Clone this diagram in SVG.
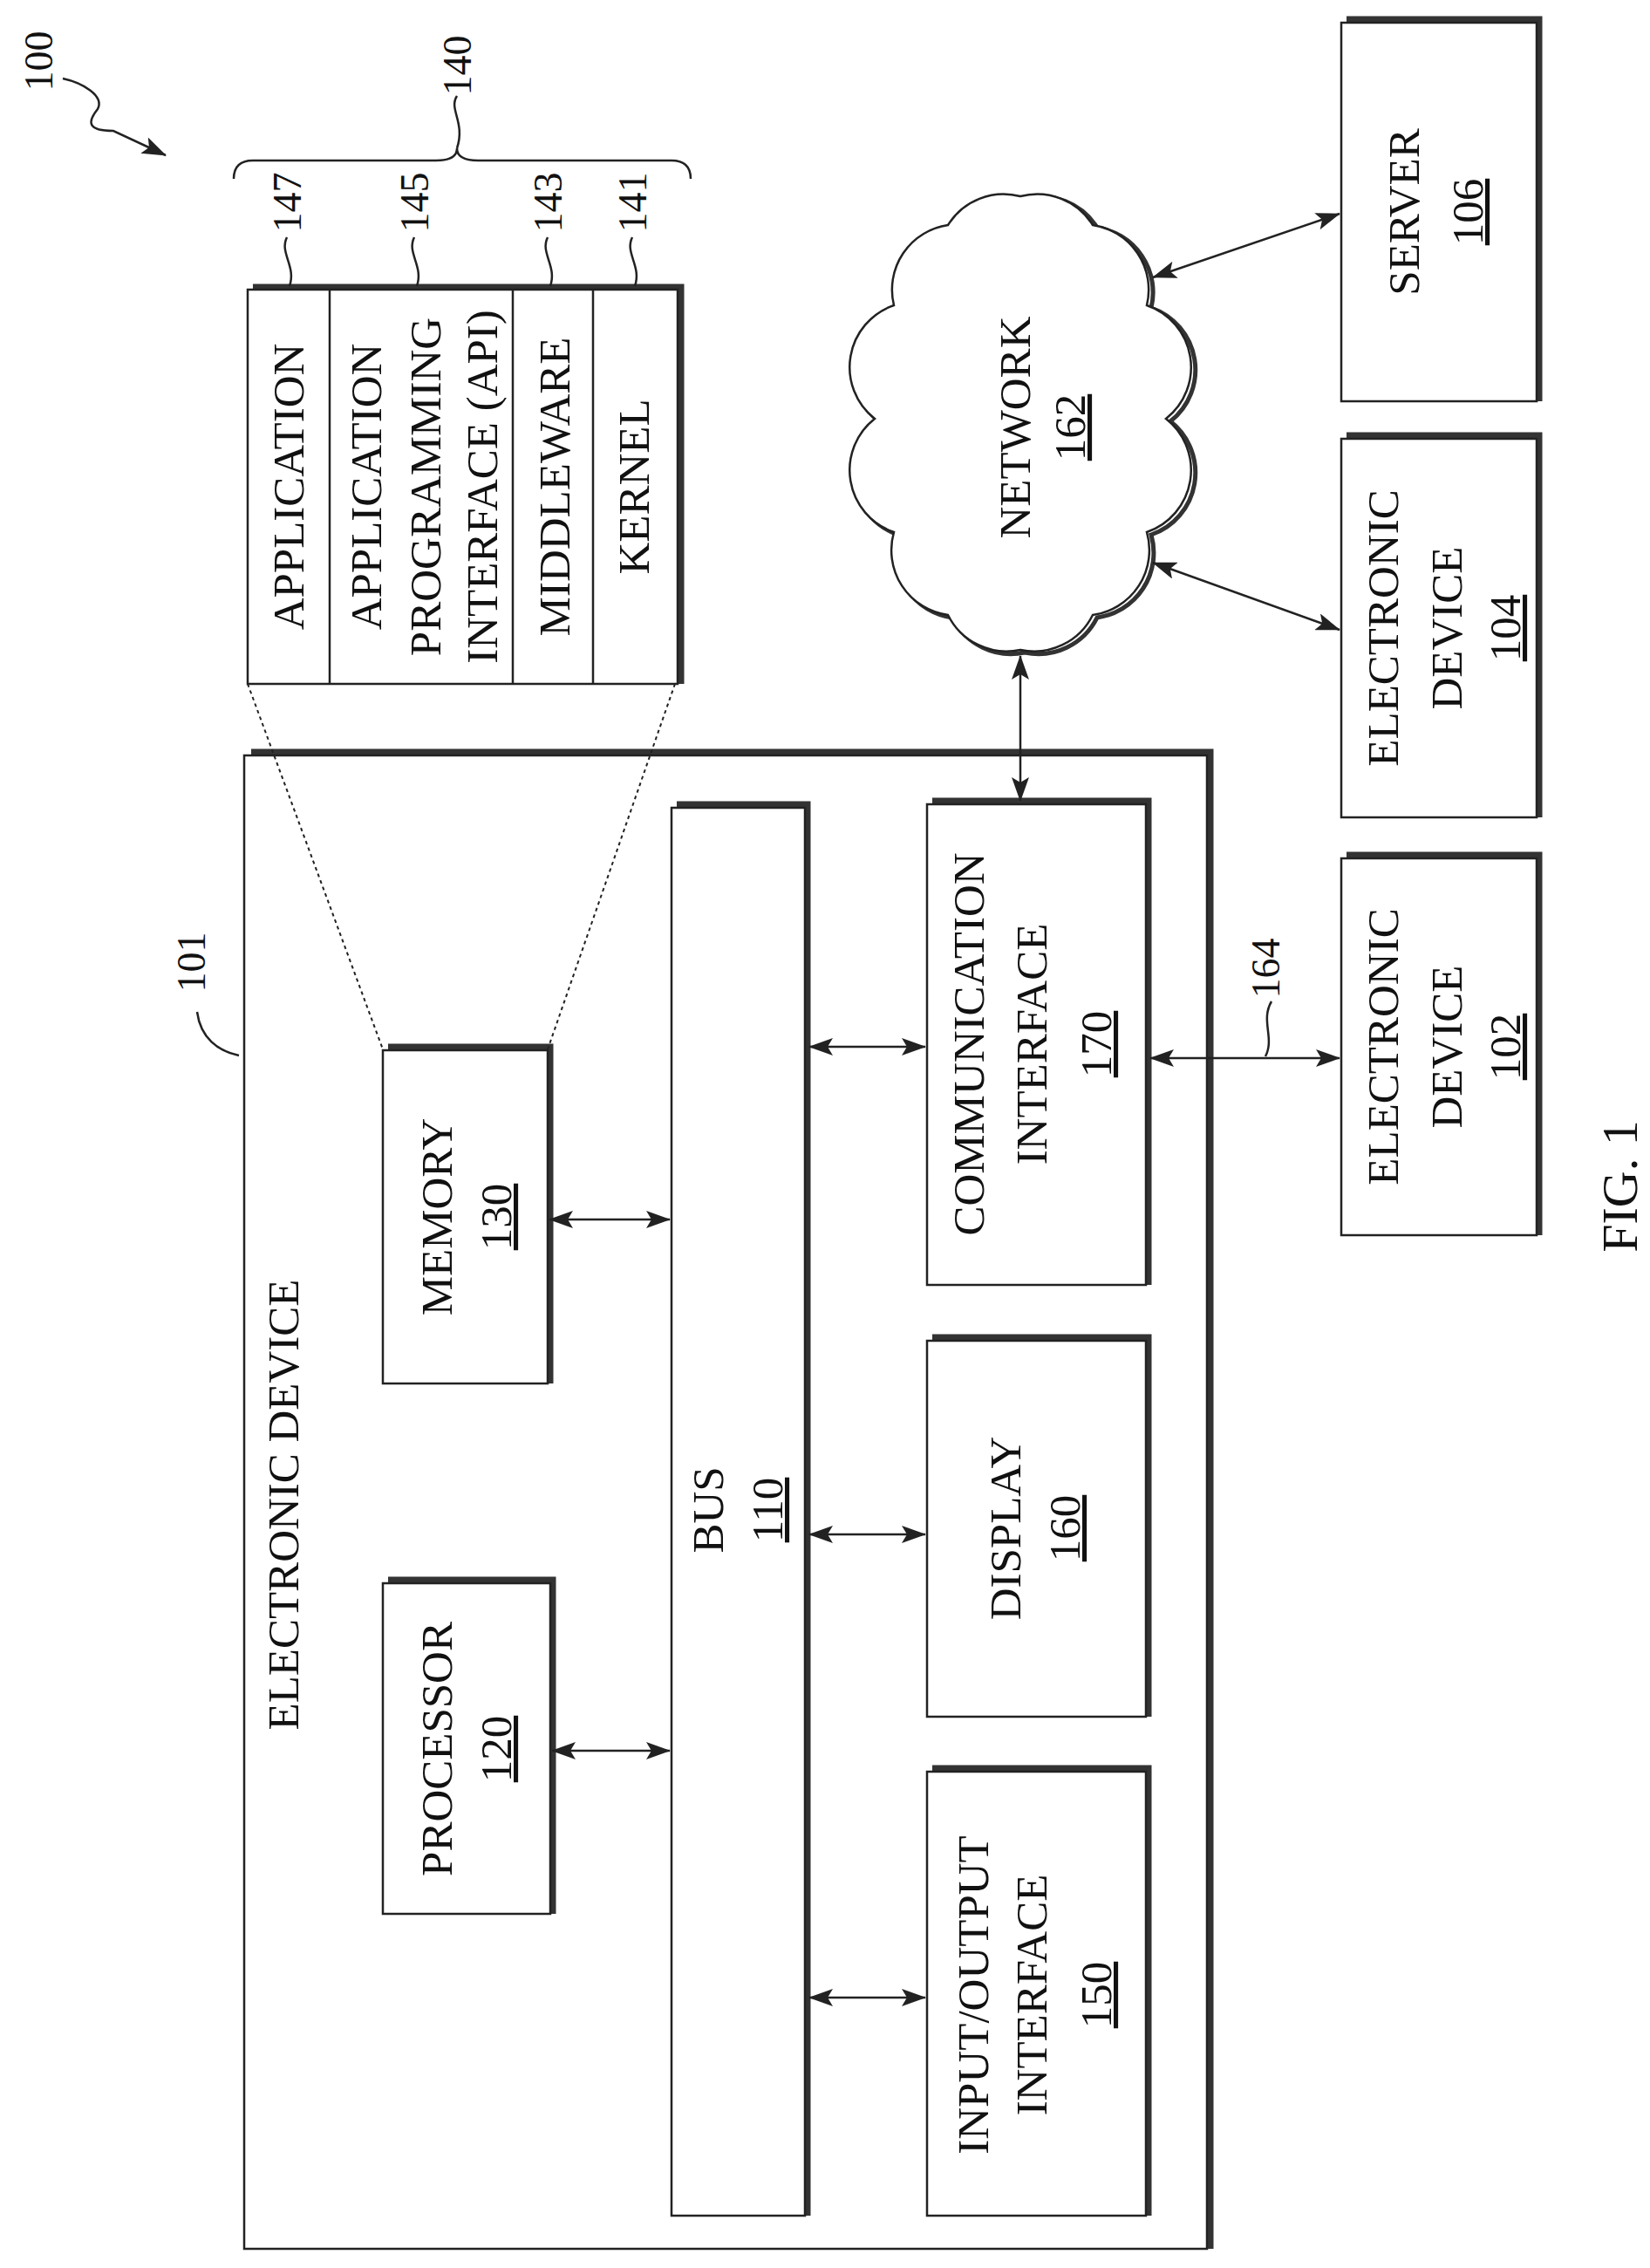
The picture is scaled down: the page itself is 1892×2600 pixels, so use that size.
<svg xmlns="http://www.w3.org/2000/svg" width="1892" height="2600" viewBox="0 0 1892 2600">
<style>
text{font-family:"Liberation Serif","Times New Roman",serif;font-size:51px;fill:#111;text-anchor:middle}
.n{font-size:46px}
.u{text-decoration:underline}
.b{fill:#fff;stroke:#222;stroke-width:2.5}
.sh{fill:none;stroke:#333;stroke-width:7}
.l{fill:none;stroke:#222;stroke-width:2.5}
.d{fill:none;stroke:#222;stroke-width:2;stroke-dasharray:4 4}
</style>
<defs>
<marker id="a" viewBox="0 0 28 20" refX="27" refY="10" markerWidth="28" markerHeight="20" markerUnits="userSpaceOnUse" orient="auto-start-reverse"><path d="M0,0 L28,10 L0,20 L6,10 Z" fill="#222"/></marker>
</defs>

<g id="label100">
<text class="n" transform="rotate(-90 60 70)" x="60" y="70">100</text>
<path class="l" d="M72,90 C95,95 120,110 112,125 C100,140 100,150 130,150 L190,178" marker-end="url(#a)"/>
</g>

<g id="stack140">
<text class="n" transform="rotate(-90 540 75)" x="540" y="75">140</text>
<path class="l" d="M524,110 C514,125 534,140 524,170"/>
<path class="l" d="M268,205 Q268,184 290,184 L500,184 Q524,184 524,170 Q524,184 548,184 L770,184 Q792,184 792,205"/>
<polyline class="sh" points="290,329 781,329 781,784"/>
<rect class="b" x="284" y="332" width="493" height="452"/>
<line class="l" x1="378" y1="332" x2="378" y2="784"/>
<line class="l" x1="588" y1="332" x2="588" y2="784"/>
<line class="l" x1="680" y1="332" x2="680" y2="784"/>
<text transform="rotate(-90 348 558)" x="348" y="558">APPLICATION</text>
<text transform="rotate(-90 437 558)" x="437" y="558">APPLICATION</text>
<text transform="rotate(-90 505 558)" x="505" y="558">PROGRAMMING</text>
<text transform="rotate(-90 570 558)" x="570" y="558">INTERFACE (API)</text>
<text transform="rotate(-90 653 558)" x="653" y="558">MIDDLEWARE</text>
<text transform="rotate(-90 744 558)" x="744" y="558">KERNEL</text>
<text class="n" transform="rotate(-90 345 232)" x="345" y="232">147</text>
<text class="n" transform="rotate(-90 491 232)" x="491" y="232">145</text>
<text class="n" transform="rotate(-90 644 232)" x="644" y="232">143</text>
<text class="n" transform="rotate(-90 741 232)" x="741" y="232">141</text>
<path class="l" d="M329,272 C320,290 340,305 332,328"/>
<path class="l" d="M475,272 C466,290 486,305 478,328"/>
<path class="l" d="M628,272 C619,290 639,305 631,328"/>
<path class="l" d="M725,272 C716,290 736,305 728,328"/>
</g>

<g id="device101">
<polyline class="sh" points="288,862 1388,862 1388,2578"/>
<rect class="b" x="280" y="866" width="1104" height="1712"/>
<text transform="rotate(-90 342 1725)" x="342" y="1725">ELECTRONIC DEVICE</text>
<text class="n" transform="rotate(-90 235 1103)" x="235" y="1103">101</text>
<path class="l" d="M226,1160 C230,1190 250,1205 274,1210"/>
</g>

<g id="memory130">
<polyline class="sh" points="445,1200 631,1200 631,1586"/>
<rect class="b" x="439" y="1204" width="189" height="382"/>
<text transform="rotate(-90 518 1395)" x="518" y="1395">MEMORY</text>
<text class="u" transform="rotate(-90 586 1395)" x="586" y="1395">130</text>
</g>
<path class="d" d="M284,784 L439,1203 M774,784 L628,1203"/>

<g id="processor120">
<polyline class="sh" points="445,1811 634,1811 634,2194"/>
<rect class="b" x="439" y="1815" width="192" height="379"/>
<text transform="rotate(-90 518 2005)" x="518" y="2005">PROCESSOR</text>
<text class="u" transform="rotate(-90 586 2005)" x="586" y="2005">120</text>
</g>

<g id="bus110">
<polyline class="sh" points="776,922 926,922 926,2540"/>
<rect class="b" x="770" y="926" width="153" height="1614"/>
<text transform="rotate(-90 829 1731)" x="829" y="1731">BUS</text>
<text class="u" transform="rotate(-90 897 1731)" x="897" y="1731">110</text>
</g>

<g id="comm170">
<polyline class="sh" points="1069,918 1317,918 1317,1473"/>
<rect class="b" x="1063" y="922" width="251" height="551"/>
<text transform="rotate(-90 1128 1197)" x="1128" y="1197">COMMUNICATION</text>
<text transform="rotate(-90 1200 1197)" x="1200" y="1197">INTERFACE</text>
<text class="u" transform="rotate(-90 1274 1197)" x="1274" y="1197">170</text>
</g>

<g id="display160">
<polyline class="sh" points="1069,1533 1317,1533 1317,1968"/>
<rect class="b" x="1063" y="1537" width="251" height="431"/>
<text transform="rotate(-90 1170 1752)" x="1170" y="1752">DISPLAY</text>
<text class="u" transform="rotate(-90 1238 1752)" x="1238" y="1752">160</text>
</g>

<g id="io150">
<polyline class="sh" points="1069,2027 1317,2027 1317,2540"/>
<rect class="b" x="1063" y="2031" width="251" height="509"/>
<text transform="rotate(-90 1133 2287)" x="1133" y="2287">INPUT/OUTPUT</text>
<text transform="rotate(-90 1200 2287)" x="1200" y="2287">INTERFACE</text>
<text class="u" transform="rotate(-90 1274 2287)" x="1274" y="2287">150</text>
</g>

<g id="network162">
<path transform="translate(5,3)" fill="none" stroke="#333" stroke-width="5" d="M1170,225 A75,75 0 0 1 1253,258 A75,75 0 0 1 1315,350 A75,75 0 0 1 1337,480 A75,75 0 0 1 1315,610 A75,75 0 0 1 1253,705 A75,75 0 0 1 1170,745 A75,75 0 0 1 1087,705 A75,75 0 0 1 1025,610 A75,75 0 0 1 1003,480 A75,75 0 0 1 1025,350 A75,75 0 0 1 1087,258 A75,75 0 0 1 1170,225 Z"/>
<path class="b" d="M1170,225 A75,75 0 0 1 1253,258 A75,75 0 0 1 1315,350 A75,75 0 0 1 1337,480 A75,75 0 0 1 1315,610 A75,75 0 0 1 1253,705 A75,75 0 0 1 1170,745 A75,75 0 0 1 1087,705 A75,75 0 0 1 1025,610 A75,75 0 0 1 1003,480 A75,75 0 0 1 1025,350 A75,75 0 0 1 1087,258 A75,75 0 0 1 1170,225 Z"/>
<text transform="rotate(-90 1181 490)" x="1181" y="490">NETWORK</text>
<text class="u" transform="rotate(-90 1244 490)" x="1244" y="490">162</text>
</g>

<g id="server106">
<polyline class="sh" points="1544,22 1765,22 1765,460"/>
<rect class="b" x="1538" y="26" width="224" height="434"/>
<text transform="rotate(-90 1627 243)" x="1627" y="243">SERVER</text>
<text class="u" transform="rotate(-90 1700 243)" x="1700" y="243">106</text>
</g>

<g id="device104">
<polyline class="sh" points="1544,499 1765,499 1765,937"/>
<rect class="b" x="1538" y="503" width="224" height="434"/>
<text transform="rotate(-90 1603 720)" x="1603" y="720">ELECTRONIC</text>
<text transform="rotate(-90 1676 720)" x="1676" y="720">DEVICE</text>
<text class="u" transform="rotate(-90 1743 720)" x="1743" y="720">104</text>
</g>

<g id="device102">
<polyline class="sh" points="1544,980 1765,980 1765,1416"/>
<rect class="b" x="1538" y="984" width="224" height="432"/>
<text transform="rotate(-90 1603 1200)" x="1603" y="1200">ELECTRONIC</text>
<text transform="rotate(-90 1676 1200)" x="1676" y="1200">DEVICE</text>
<text class="u" transform="rotate(-90 1743 1200)" x="1743" y="1200">102</text>
</g>

<g id="connectors">
<line class="l" x1="630" y1="1398" x2="768" y2="1398" marker-start="url(#a)" marker-end="url(#a)"/>
<line class="l" x1="633" y1="2007" x2="768" y2="2007" marker-start="url(#a)" marker-end="url(#a)"/>
<line class="l" x1="928" y1="1200" x2="1061" y2="1200" marker-start="url(#a)" marker-end="url(#a)"/>
<line class="l" x1="928" y1="1759" x2="1061" y2="1759" marker-start="url(#a)" marker-end="url(#a)"/>
<line class="l" x1="928" y1="2290" x2="1061" y2="2290" marker-start="url(#a)" marker-end="url(#a)"/>
<line class="l" x1="1170" y1="752" x2="1170" y2="918" marker-start="url(#a)" marker-end="url(#a)"/>
<line class="l" x1="1319" y1="1213" x2="1536" y2="1213" marker-start="url(#a)" marker-end="url(#a)"/>
<line class="l" x1="1322" y1="318" x2="1536" y2="245" marker-start="url(#a)" marker-end="url(#a)"/>
<line class="l" x1="1322" y1="645" x2="1536" y2="722" marker-start="url(#a)" marker-end="url(#a)"/>
<text class="n" transform="rotate(-90 1467 1110)" x="1467" y="1110">164</text>
<path class="l" d="M1458,1148 C1445,1170 1462,1190 1451,1211"/>
</g>

<text style="font-size:58px" transform="rotate(-90 1877 1360)" x="1877" y="1360">FIG. 1</text>
</svg>
